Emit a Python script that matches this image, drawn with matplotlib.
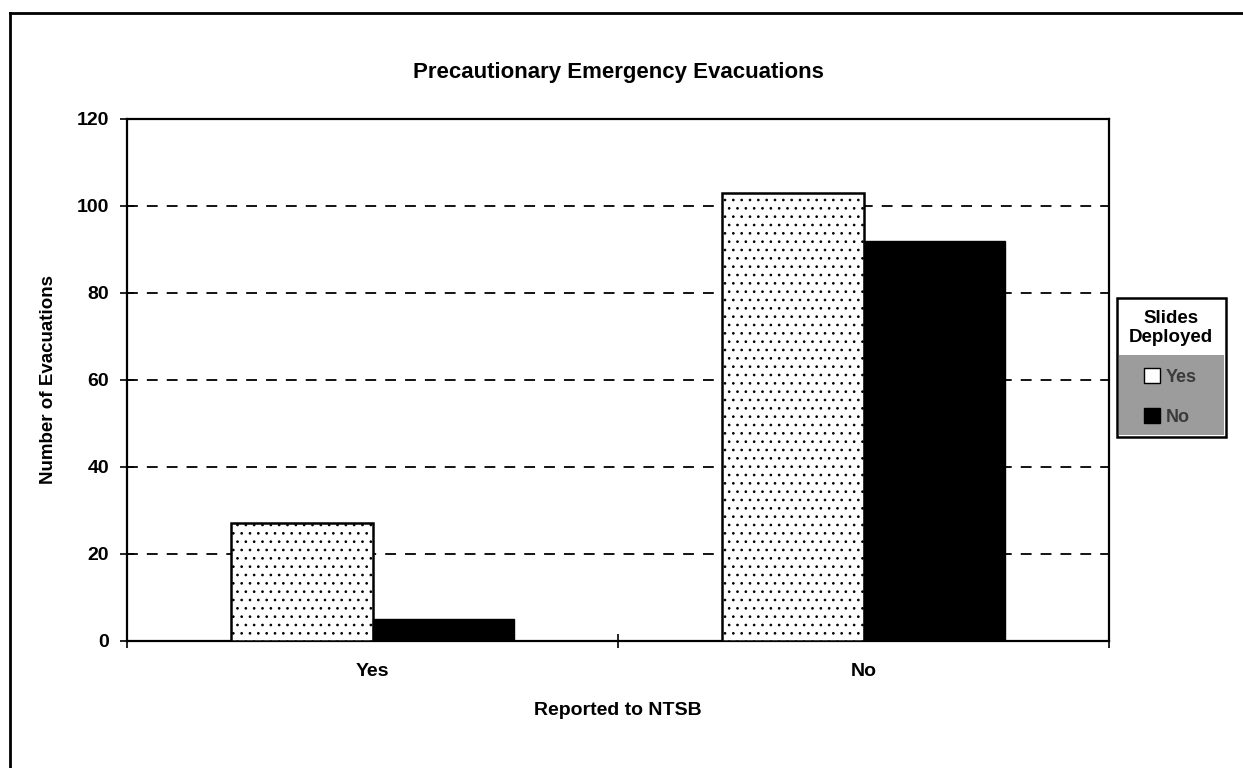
import matplotlib.pyplot as plt
from matplotlib.patches import Rectangle, Patch
from matplotlib.lines import Line2D
import numpy as np

# data
groups = ['Yes', 'No']
slides_yes = [27, 103]
slides_no = [5, 92]
series_names = ['Yes', 'No']

plt.rcParams['font.family'] = ['Liberation Sans', 'DejaVu Sans']
plt.rcParams['font.weight'] = 'bold'
plt.rcParams['hatch.color'] = '#9a9a9a'
plt.rcParams['hatch.linewidth'] = 0.7

fig = plt.figure(figsize=(12.43, 7.68), dpi=100)
ax = fig.add_axes([0.1022, 0.1654, 0.7900, 0.6800])

x = np.arange(len(groups))
w = 0.288
ax.bar(x - w / 2, slides_yes, w, color='white', edgecolor='black',
       linewidth=1.8, hatch='..', zorder=3)
ax.bar(x + w / 2, slides_no, w, color='black', edgecolor='black',
       linewidth=1.0, zorder=3)

ax.set_xlim(-0.5, 1.5)
ax.set_ylim(0, 120)
ax.set_yticks([0, 20, 40, 60, 80, 100, 120])
ax.set_xticks(x)
ax.set_xticklabels(groups)
ax.set_xticks([-0.5, 0.5, 1.5], minor=True)
ax.tick_params(axis='x', which='major', length=0, pad=16, labelsize=14)
ax.tick_params(axis='x', which='minor', direction='inout', length=10, width=1.2)
ax.tick_params(axis='y', direction='inout', length=10, width=1.2, pad=8,
               labelsize=14)

for v in [20, 40, 60, 80, 100]:
    ax.axhline(v, color='black', linestyle=(0, (6, 5)), linewidth=1.3, zorder=1)

for s in ax.spines.values():
    s.set_linewidth(1.6)

ax.set_title('Precautionary Emergency Evacuations', fontsize=16,
             fontweight='bold', pad=29)
ax.set_xlabel('Reported to NTSB', fontsize=14, fontweight='bold', labelpad=16)
ax.set_ylabel('Number of Evacuations', fontsize=13.5, fontweight='bold',
              labelpad=14)

# legend box, title part white and entries on grey
fig.patches.append(Rectangle((1117 / 1243, 1 - 437 / 768), 109 / 1243,
                             139 / 768, transform=fig.transFigure,
                             facecolor='white', edgecolor='black',
                             linewidth=1.8, zorder=5))
fig.patches.append(Rectangle((1119 / 1243, 1 - 435 / 768), 105 / 1243,
                             80 / 768, transform=fig.transFigure,
                             facecolor='#9c9c9c', edgecolor='none', zorder=6))
fig.text(1171 / 1243, 1 - 328 / 768, 'Slides\nDeployed', ha='center',
         va='center', fontsize=13.5, fontweight='bold', linespacing=1.2,
         zorder=7)
handles = [Patch(facecolor='white', edgecolor='black', label=series_names[0]),
           Patch(facecolor='black', edgecolor='black', label=series_names[1])]
leg = fig.legend(handles=handles, loc='center',
                 bbox_to_anchor=(1170 / 1243, 1 - 397 / 768), frameon=False,
                 fontsize=13, handlelength=0.9, handleheight=0.9,
                 handletextpad=0.3, labelspacing=1.2)
leg.set_zorder(8)
for t in leg.get_texts():
    t.set_color('#3a3a3a')

# outer frame (left and top edges)
fig.lines.append(Line2D([10 / 1243, 10 / 1243], [0, 1 - 13 / 768],
                        transform=fig.transFigure, color='black', linewidth=2))
fig.lines.append(Line2D([10 / 1243, 1], [1 - 13 / 768, 1 - 13 / 768],
                        transform=fig.transFigure, color='black', linewidth=2))

fig.savefig('out.png', dpi=100)
